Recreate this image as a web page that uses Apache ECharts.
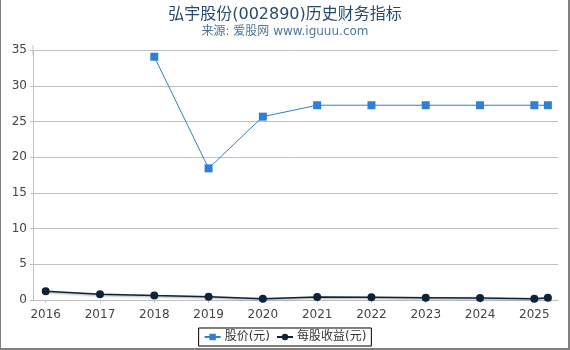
<!DOCTYPE html>
<html>
<head>
<meta charset="utf-8">
<script src="https://cdn.jsdelivr.net/npm/echarts@6/dist/echarts.min.js"></script>
<style>
html,body{margin:0;padding:0;background:#fff;}
#wrap{position:relative;width:570px;height:350px;}
#chart{position:absolute;left:0;top:0;width:570px;height:350px;}
#frame{position:absolute;left:0;top:0;width:570px;height:350px;box-sizing:border-box;border-left:1px solid #808080;border-right:2px solid #808080;border-bottom:2px solid #808080;pointer-events:none;}
</style>
</head>
<body>
<div id="wrap"><div id="chart"></div><div id="frame"></div></div>
<script>
var titleText = '弘宇股份(002890)历史财务指标';
var subText = '来源: 爱股网 www.iguuu.com';
var seriesNames = ['股价(元)', '每股收益(元)'];
var years = [2016, 2017, 2018, 2019, 2020, 2021, 2022, 2023, 2024, 2025, 2025.25];
var tickYears = [2016, 2017, 2018, 2019, 2020, 2021, 2022, 2023, 2024, 2025];
var yTicks = [0, 5, 10, 15, 20, 25, 30, 35];
var price = [null, null, 34.1, 18.45, 25.7, 27.3, 27.3, 27.3, 27.3, 27.3, 27.3];
var eps = [1.22, 0.8, 0.62, 0.47, 0.18, 0.42, 0.37, 0.33, 0.28, 0.18, 0.33];

function pairs(vals){
  var out = [];
  for (var i = 0; i < years.length; i++) {
    if (vals[i] !== null) out.push([years[i], vals[i]]);
  }
  return out;
}

var font = 'DejaVu Sans, "Noto Sans CJK SC", sans-serif';
var chart = echarts.init(document.getElementById('chart'), null, {renderer: 'canvas'});
chart.setOption({
  backgroundColor: '#fff',
  animation: false,
  textStyle: {fontFamily: font},
  title: [
    {text: titleText, left: 'center', top: 2, textStyle: {fontSize: 16, fontWeight: 'normal', color: '#274b6d', fontFamily: font}},
    {text: subText, left: 'center', top: 21, textStyle: {fontSize: 12, fontWeight: 'normal', color: '#4d759e', fontFamily: font}}
  ],
  legend: {
    bottom: 4,
    left: 'center',
    borderColor: '#000',
    borderWidth: 1,
    borderRadius: 0,
    padding: [3, 5, 3, 5],
    itemGap: 6,
    itemWidth: 16,
    itemHeight: 8,
    textStyle: {fontSize: 12, color: '#333', fontFamily: font, padding: [0, 0, 0, -1]},
    data: seriesNames
  },
  grid: {left: 33, right: 12, top: 50.3, bottom: 50, containLabel: false},
  xAxis: {
    type: 'value',
    min: 2015.766,
    max: 2025.436,
    offset: 4,
    axisLine: {show: true, lineStyle: {color: '#c0c0c0', width: 1}},
    axisTick: {show: true, length: 3, lineStyle: {color: '#c0c0c0'}, customValues: tickYears},
    axisLabel: {color: '#444', fontSize: 12, margin: 5, customValues: tickYears, formatter: function(v){return String(Math.round(v));}},
    splitLine: {show: false}
  },
  yAxis: {
    type: 'value',
    min: 0,
    max: 35,
    interval: 5,
    axisLine: {show: true, symbol: ['none', 'rect'], symbolSize: [1, 10], lineStyle: {color: '#c0c0c0', width: 1}},
    axisTick: {show: true, length: 3, lineStyle: {color: '#c0c0c0'}},
    axisLabel: {color: '#444', fontSize: 12, margin: 6},
    splitLine: {show: true, lineStyle: {color: '#c0c0c0', width: 1}}
  },
  series: [
    {
      name: seriesNames[0],
      type: 'line',
      data: pairs(price),
      symbol: 'rect',
      symbolSize: 8,
      color: '#2f7ed8',
      lineStyle: {width: 1, color: '#2f7ed8'},
      itemStyle: {color: '#2f7ed8'}
    },
    {
      name: seriesNames[1],
      type: 'line',
      data: pairs(eps),
      symbol: 'circle',
      symbolSize: 8,
      color: '#0d233a',
      lineStyle: {width: 1.5, color: '#0d233a', shadowColor: 'rgba(0,0,0,0.35)', shadowBlur: 2, shadowOffsetY: 1},
      itemStyle: {color: '#0d233a'}
    }
  ]
});
</script>
</body>
</html>
